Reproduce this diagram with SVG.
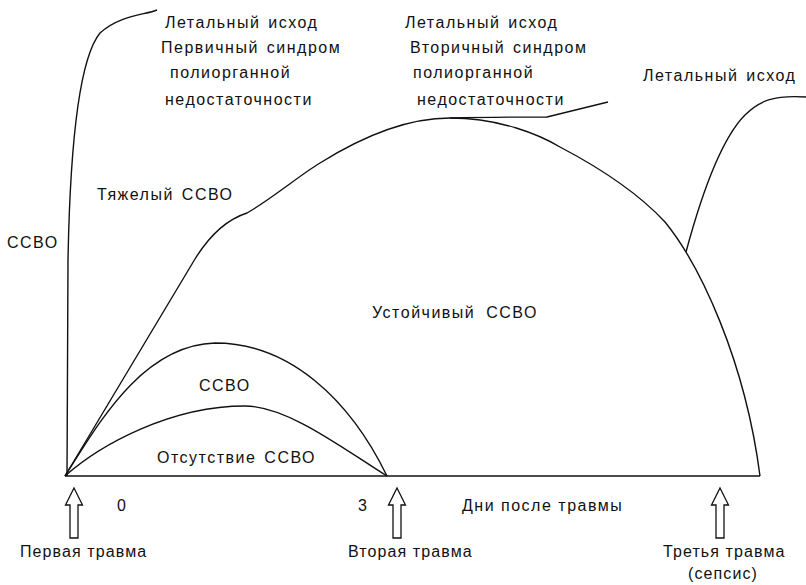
<svg xmlns="http://www.w3.org/2000/svg" width="806" height="585" viewBox="0 0 806 585">
<style>
text{font-family:"Liberation Sans",Arial,sans-serif;font-size:16px;fill:#111;letter-spacing:1.5px;}
text.b{letter-spacing:1.1px;}
.c{fill:none;stroke:#111;stroke-width:1.4;}
.a{fill:#fff;stroke:#111;stroke-width:1.3;}
</style>
<defs>
<path id="arr" d="M0,0 L8.5,17 L4,17 L4,50 L-4,50 L-4,17 L-8.5,17 Z"/>
</defs>
<rect width="806" height="585" fill="#fff"/>
<g id="curves">
<path class="c" d="M65,476 L760,476"/>
<path class="c" d="M67,476 L68,260 C70,150 78,60 100,33 C120,15 145,15 157,10"/>
<path class="c" d="M65,476 L195,259 C208,238 225,220 247,213 C270,200 300,175 320,163 C360,138 405,118 450,118 C500,118 540,135 560,147 C600,168 640,195 665,222 C700,265 745,360 760,476"/>
<path class="c" d="M450,118 C490,117 520,117 547,117 L608,102"/>
<path class="c" d="M686,252 C700,200 720,140 745,115 C760,100 775,95 806,97"/>
<path class="c" d="M65,476 C95,430 140,345 215,343 C290,343 350,400 387,476"/>
<path class="c" d="M65,476 C100,445 170,406 245,406 C288,406 345,450 387,476"/>
</g>
<g id="arrows">
<use href="#arr" class="a" x="74" y="488"/>
<use href="#arr" class="a" x="397" y="488"/>
<use href="#arr" class="a" x="720" y="488"/>
</g>
<g id="labels">
<text x="165" y="28" word-spacing="2">Летальный исход</text>
<text x="161" y="53" word-spacing="2">Первичный синдром</text>
<text x="170" y="78">полиорганной</text>
<text x="165" y="105">недостаточности</text>
<text x="405" y="28" word-spacing="2">Летальный исход</text>
<text x="410" y="53" word-spacing="2">Вторичный синдром</text>
<text x="413" y="78">полиорганной</text>
<text x="417" y="105">недостаточности</text>
<text x="643" y="81" word-spacing="2">Летальный исход</text>
<text x="97" y="200" word-spacing="2">Тяжелый ССВО</text>
<text x="7" y="248">ССВО</text>
<text x="372" y="318" word-spacing="5">Устойчивый ССВО</text>
<text x="199" y="391">ССВО</text>
<text x="157" y="463" word-spacing="2">Отсутствие ССВО</text>
<text class="b" x="117" y="511">0</text>
<text class="b" x="358" y="511">3</text>
<text x="462" y="511" letter-spacing="1.4">Дни после травмы</text>
<text class="b" x="20" y="557">Первая травма</text>
<text class="b" x="348" y="557">Вторая травма</text>
<text class="b" x="663" y="557">Третья травма</text>
<text class="b" x="688" y="579">(сепсис)</text>
</g>
</svg>
